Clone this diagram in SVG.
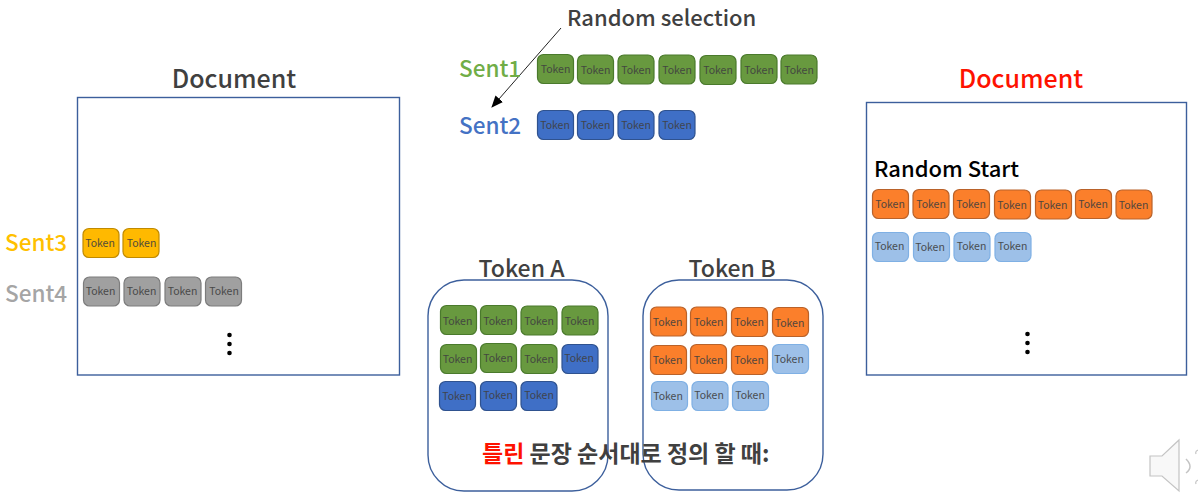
<svg xmlns="http://www.w3.org/2000/svg" width="1198" height="500" viewBox="0 0 1198 500">
<style>
text{font-family:"Noto Sans CJK KR","Noto Sans",sans-serif}
.box{fill:#fff;stroke:#3c5f9c;stroke-width:1.4}
.t rect{width:36px;height:29px;rx:6px;ry:6px;stroke-width:1.2}
.t text{font-size:10.500px;fill:#404040;text-anchor:middle;opacity:.9}
.g rect{fill:#68993f;stroke:#4a7a2c}
.b rect{fill:#3f6fc6;stroke:#2f528f}
.y rect{fill:#ffb900;stroke:#c08a00}
.s rect{fill:#a0a0a0;stroke:#7c7c7c}
.o rect{fill:#fb7f2b;stroke:#b9622a}
.l rect{fill:#9dc0e8;stroke:#7fb0e4}
.h{font-size:25px;font-weight:500;fill:#404040;text-anchor:middle}
.ts{font-size:23px}
.n{font-size:22.500px;font-weight:500}
.m{font-size:22px;font-weight:500;fill:#404040}
.d{fill:#000}
</style>
<defs>
<marker id="a" markerWidth="12" markerHeight="10" refX="11" refY="5" orient="auto" markerUnits="userSpaceOnUse"><path d="M0 0L12 5L0 10z" fill="#000"/></marker>
</defs>
<g id="connectors"><path d="M561 28L492 107" fill="none" stroke="#222" stroke-width="1" marker-end="url(#a)"/></g>
<g id="doc-left"><text x="234" y="88" class="h">Document</text><rect x="77.500" y="97.500" width="322" height="277.500" class="box"/></g>
<g id="doc-right"><text x="1021" y="88" class="h" style="fill:#fe1200">Document</text><rect x="866.500" y="102.500" width="320" height="272.500" class="box"/></g>
<g id="token-a"><text x="521.500" y="277" class="h ts">Token A</text><rect x="428" y="280" width="180" height="211" rx="36" class="box"/></g>
<g id="token-b"><text x="732" y="277" class="h ts">Token B</text><rect x="643" y="280" width="180" height="210" rx="36" class="box"/></g>
<g id="labels">
<text x="567" y="26" class="m">Random selection</text>
<text x="459" y="77" class="n" fill="#70ad47">Sent1</text>
<text x="459" y="134" class="n" fill="#4472c4">Sent2</text>
<text x="5" y="251" class="n" fill="#ffc000">Sent3</text>
<text x="5" y="301.500" class="n" fill="#a5a5a5">Sent4</text>
<text x="874" y="177" class="m" style="fill:#000">Random Start</text>
<text x="482" y="461.500" style="font-size:23px;font-weight:700;fill:#404040"><tspan fill="#fe1200">틀린</tspan> 문장 순서대로 정의 할 때:</text>
</g>
<g id="sent1" class="t g">
<rect x="537.500" y="54.500"/><text x="555.500" y="73">Token</text>
<rect x="577.500" y="55"/><text x="595.500" y="73.500">Token</text>
<rect x="618" y="55"/><text x="636" y="74">Token</text>
<rect x="659" y="55"/><text x="677" y="73.500">Token</text>
<rect x="700" y="55.500"/><text x="718" y="74">Token</text>
<rect x="741" y="54.500"/><text x="759" y="73.500">Token</text>
<rect x="781" y="55"/><text x="799" y="74">Token</text>
</g>
<g id="sent2" class="t b">
<rect x="537.500" y="110.500"/><text x="555" y="129">Token</text>
<rect x="577.500" y="110.500"/><text x="595.500" y="129">Token</text>
<rect x="618" y="110.500"/><text x="636" y="128.500">Token</text>
<rect x="659" y="110.500"/><text x="677" y="128.500">Token</text>
</g>
<g id="sent3" class="t y">
<rect x="83" y="228.500"/><text x="100" y="246.500">Token</text>
<rect x="123" y="228.500"/><text x="141.500" y="247">Token</text>
</g>
<g id="sent4" class="t s">
<rect x="83.500" y="277"/><text x="100.500" y="295">Token</text>
<rect x="124" y="277"/><text x="141.500" y="295">Token</text>
<rect x="165" y="277"/><text x="182.500" y="294.500">Token</text>
<rect x="205.500" y="277"/><text x="224" y="294.500">Token</text>
</g>
<g id="right-orange" class="t o">
<rect x="872.500" y="189.500"/><text x="890" y="208">Token</text>
<rect x="913" y="189.500"/><text x="931" y="208">Token</text>
<rect x="953.500" y="189.500"/><text x="971" y="208">Token</text>
<rect x="994.500" y="190"/><text x="1012" y="208.500">Token</text>
<rect x="1035.500" y="190"/><text x="1052.500" y="208.500">Token</text>
<rect x="1075.500" y="189.500"/><text x="1093" y="208">Token</text>
<rect x="1116" y="190"/><text x="1133.500" y="208.500">Token</text>
</g>
<g id="right-blue" class="t l">
<rect x="872.500" y="232.500"/><text x="889.500" y="249.500">Token</text>
<rect x="913.500" y="232.500"/><text x="930" y="250.500">Token</text>
<rect x="954" y="232.500"/><text x="971.500" y="249.500">Token</text>
<rect x="995" y="232.500"/><text x="1012.500" y="249.500">Token</text>
</g>
<g id="a-green" class="t g">
<rect x="440.500" y="305.500"/><text x="457.500" y="324.500">Token</text>
<rect x="480.500" y="305.500"/><text x="498" y="324.500">Token</text>
<rect x="521" y="306"/><text x="539" y="325">Token</text>
<rect x="562" y="306"/><text x="579.500" y="325">Token</text>
<rect x="440.500" y="344.500"/><text x="457.500" y="363">Token</text>
<rect x="480.500" y="343.500"/><text x="498" y="362">Token</text>
<rect x="521" y="344.500"/><text x="539" y="362.500">Token</text>
</g>
<g id="a-blue" class="t b">
<rect x="562" y="344.500"/><text x="579" y="362">Token</text>
<rect x="439.500" y="381.500"/><text x="457" y="399.500">Token</text>
<rect x="480.500" y="381.500"/><text x="498" y="399">Token</text>
<rect x="521" y="381.500"/><text x="539" y="399">Token</text>
</g>
<g id="b-orange" class="t o">
<rect x="650.500" y="307"/><text x="667.500" y="326">Token</text>
<rect x="690.500" y="307"/><text x="708.500" y="326">Token</text>
<rect x="731.500" y="307.500"/><text x="749" y="326">Token</text>
<rect x="772.500" y="307.500"/><text x="789.500" y="326.500">Token</text>
<rect x="650.500" y="345.500"/><text x="667.500" y="364">Token</text>
<rect x="690.500" y="344.500"/><text x="708.500" y="363.500">Token</text>
<rect x="731.500" y="345.500"/><text x="749" y="364">Token</text>
</g>
<g id="b-blue" class="t l">
<rect x="772.500" y="344.500"/><text x="789" y="362.500">Token</text>
<rect x="651.500" y="381.500"/><text x="668" y="399.500">Token</text>
<rect x="692" y="381.500"/><text x="709" y="398.500">Token</text>
<rect x="732.500" y="381.500"/><text x="750" y="398.500">Token</text>
</g>
<g id="dots-left" class="d"><circle cx="229.500" cy="335" r="2.300"/><circle cx="229.500" cy="344" r="2.300"/><circle cx="229.500" cy="353" r="2.300"/></g>
<g id="dots-right" class="d"><circle cx="1027.500" cy="334" r="2.300"/><circle cx="1027.500" cy="343" r="2.300"/><circle cx="1027.500" cy="352" r="2.300"/></g>
<g id="speaker" fill="none" stroke="#c4c4c4">
<path d="M1150 456H1162L1179 440V491L1162 476H1150z" fill="#f8f8f8" stroke-width="1.200"/>
<path d="M1186 459Q1194 467 1186 473" stroke-width="1.500"/>
<path d="M1198 450Q1195 451 1196 454M1198 480Q1195 481 1196 484" stroke-width="1.200"/>
</g>
</svg>
